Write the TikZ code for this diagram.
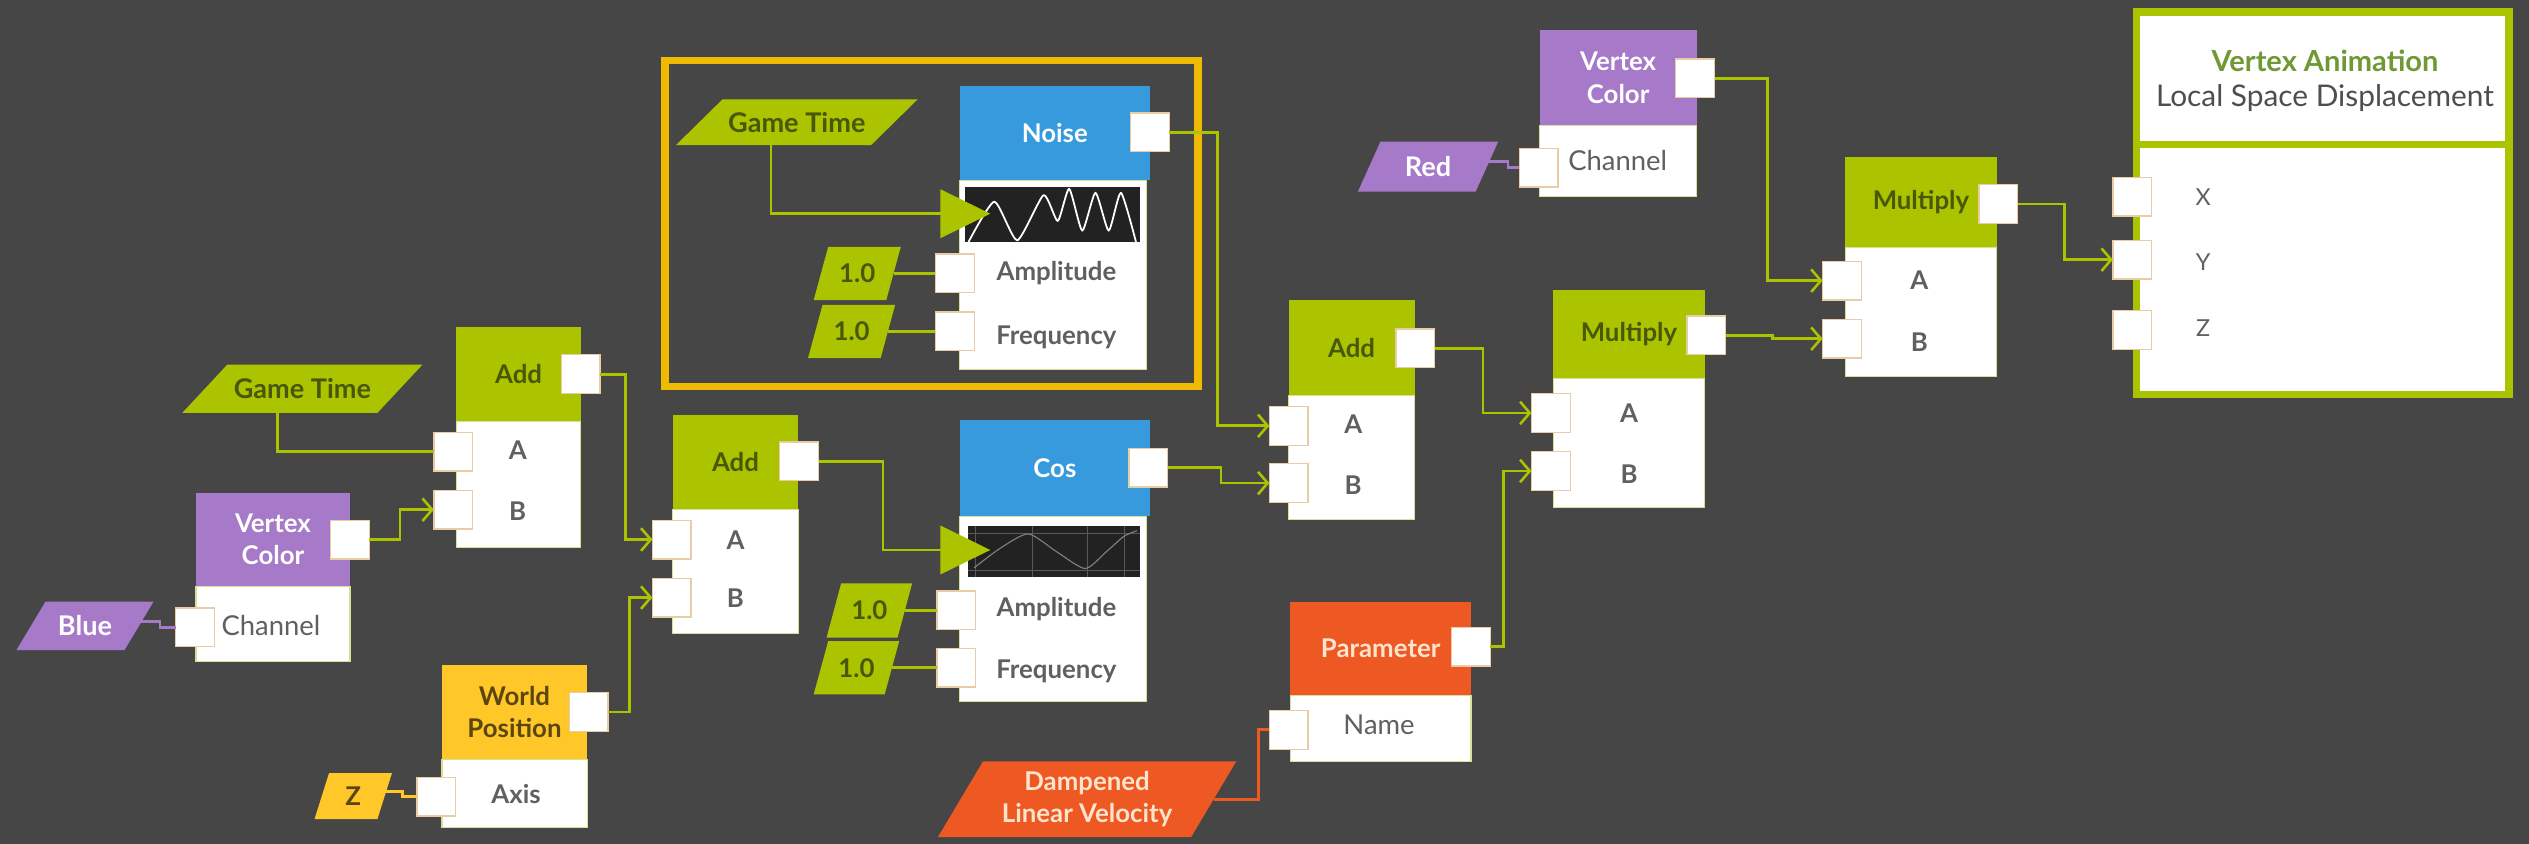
\documentclass[tikz,border=0pt]{standalone}
\usepackage{fontspec}
\setmainfont{Lato}
\usetikzlibrary{arrows.meta,calc}
\definecolor{bg}{RGB}{70,70,70}
\definecolor{cgreen}{RGB}{172,196,0}
\definecolor{cgreentxt}{RGB}{72,88,8}
\definecolor{cblue}{RGB}{54,154,220}
\definecolor{cpurple}{RGB}{166,122,200}
\definecolor{corange}{RGB}{238,88,34}
\definecolor{corangetxt}{RGB}{255,228,205}
\definecolor{cyellow}{RGB}{255,200,40}
\definecolor{cyellowtxt}{RGB}{92,70,16}
\definecolor{cgold}{RGB}{240,186,0}
\definecolor{cport}{RGB}{232,204,166}
\definecolor{clabel}{RGB}{96,96,96}
\definecolor{cedge}{RGB}{214,224,150}
\definecolor{cgraph}{RGB}{34,34,34}
\definecolor{cvagreen}{RGB}{112,152,52}
\definecolor{cdark}{RGB}{78,78,78}
\newcommand{\hdrfont}{\fontsize{16}{20}\selectfont\bfseries}
\newcommand{\parafont}{\fontsize{16.8}{21}\selectfont\bfseries}
\newcommand{\lblfont}{\fontsize{16}{20}\selectfont\bfseries}
\newcommand{\regfont}{\fontsize{17}{20}\selectfont}
\newcommand{\xyzfont}{\fontsize{14.5}{18}\selectfont}
\newcommand{\titfont}{\fontsize{18}{22}\selectfont\bfseries}
\newcommand{\subtfont}{\fontsize{18.5}{22}\selectfont}
\begin{document}
\begin{tikzpicture}[x=1pt,y=-1pt,
  every node/.style={inner sep=0pt, outer sep=0pt},
  hdr/.style={rectangle, anchor=north west, align=center, font=\hdrfont},
  bodybox/.style={rectangle, anchor=north west, fill=white, draw=cedge, line width=0.7pt},
  port/.style={rectangle, fill=white, draw=cport, line width=0.8pt, minimum width=24pt, minimum height=24pt},
  lbl/.style={text=clabel, font=\lblfont},
  rlbl/.style={text=clabel, font=\regfont},
  xyz/.style={text=clabel, font=\xyzfont},
  wire/.style={draw=cgreen, line width=1.7pt},
  pwire/.style={draw=cpurple, line width=1.6pt},
  ywire/.style={draw=cyellow, line width=1.6pt},
  owire/.style={draw=corange, line width=1.8pt},
  arrowin/.style={-{Straight Barb[length=6pt,width=14pt,line width=1.6pt]}},
  bigtri/.style={-{Triangle[length=31pt,width=30pt]}},
  para/.style n args={4}{rectangle, minimum width=#1, minimum height=#2, align=center, font=\hdrfont,
    path picture={\fill[#3] (path picture bounding box.south west) -- ([xshift=-#4]path picture bounding box.south east) -- (path picture bounding box.north east) -- ([xshift=#4]path picture bounding box.north west) -- cycle;}},
]
\useasboundingbox (0,0) rectangle (1568,523);
\fill[bg] (0,0) rectangle (1568,523);

% highlight frame
\node[rectangle, draw=cgold, line width=4.5pt, anchor=north west, minimum width=330.4, minimum height=202.1] (hl) at (412.3,37.7) {};

% ---------- Add 1 ----------
\node[hdr, fill=cgreen, text=cgreentxt, minimum width=77, minimum height=59] (a1h) at (283,202.5) {Add};
\node[bodybox, minimum width=77, minimum height=78] (a1b) at (283,261.5) {};
\node[lbl] (a1la) at (321,279) {A};
\node[lbl] (a1lb) at (321,317) {B};

% Game Time 1
\node[para={149}{30}{cgreen}{28}, text=cgreentxt, font=\parafont] (gt1) at (187.5,241) {Game Time};

% ---------- Vertex Color 1 ----------
\node[hdr, fill=cpurple, text=white, minimum width=95.5, minimum height=58] (vc1h) at (121.5,305.5) {Vertex\\Color};
\node[bodybox, minimum width=95.5, minimum height=46.5] (vc1b) at (121.5,363.5) {};
\node[rlbl] (vc1l) at (168,388) {Channel};
\node[para={85}{30}{cpurple}{18}, text=white, font=\parafont] (blue) at (52.7,388) {Blue};

% ---------- Add 2 ----------
\node[hdr, fill=cgreen, text=cgreentxt, minimum width=78, minimum height=59] (a2h) at (417,257) {Add};
\node[bodybox, minimum width=78, minimum height=77] (a2b) at (417,316) {};
\node[lbl] (a2la) at (456,335) {A};
\node[lbl] (a2lb) at (456,371) {B};

% ---------- World Position ----------
\node[hdr, fill=cyellow, text=cyellowtxt, minimum width=90, minimum height=59] (wph) at (274,412) {World\\Position};
\node[bodybox, minimum width=90, minimum height=42] (wpb) at (274,471) {};
\node[lbl] (wpl) at (320,492) {Axis};
\node[para={48}{28.5}{cyellow}{9}, text=cyellowtxt] (zp) at (219,493.6) {Z};

% ---------- Noise ----------
\node[para={150}{28.5}{cgreen}{29}, text=cgreentxt, font=\parafont] (gt2) at (494,75.8) {Game Time};
\node[hdr, fill=cblue, text=white, minimum width=118, minimum height=58.5] (nh) at (595,53.3) {Noise};
\node[bodybox, minimum width=116, minimum height=117.5] (nb) at (595,111.8) {};
\node[rectangle, anchor=north west, fill=cgraph, minimum width=109, minimum height=34] (ng) at (598,116) {};
\begin{scope}
\clip (598,116) rectangle (707,150);
\draw[white, line width=1.1pt, line join=round] plot[smooth, tension=0.35] coordinates {(600.5,150) (616.5,125) (630.7,149) (647,121) (655.8,137) (662.9,117) (671,143) (679.2,119.5) (687.4,143) (695,119.5) (704.3,150)};
\end{scope}
\node[lbl] (nla) at (655,169.5) {Amplitude};
\node[lbl] (nlf) at (655,209) {Frequency};
\node[para={54}{33}{cgreen}{9}, text=cgreentxt] (n1) at (531.5,169.5) {1.0};
\node[para={54}{33}{cgreen}{9}, text=cgreentxt] (n2) at (528,205.5) {1.0};
\coordinate (ntip) at (614,132.5);
\coordinate (gt2d) at ([xshift=-16pt]gt2.south);

% ---------- Cos ----------
\node[hdr, fill=cblue, text=white, minimum width=118, minimum height=59.5] (ch) at (595,260.5) {Cos};
\node[bodybox, minimum width=116, minimum height=115] (cb) at (595,320) {};
\node[rectangle, anchor=north west, fill=cgraph, minimum width=107, minimum height=32] (cg) at (600,326) {};
\draw[gray!70!black, line width=0.4pt] (605,326)--(605,358) (640,326)--(640,358) (674,326)--(674,358) (697,326)--(697,358) (600,330.5)--(707,330.5) (600,353.5)--(707,353.5);
\draw[gray, line width=0.7pt] plot[smooth, tension=0.4] coordinates {(604,352) (620,340) (637.5,331) (655,342) (672.8,352.5) (686,342) (697,332.4) (705,329)};
\node[lbl] (cla) at (655,377.5) {Amplitude};
\node[lbl] (clf) at (655,416.5) {Frequency};
\node[para={53}{33.5}{cgreen}{9}, text=cgreentxt] (c1) at (539,378.5) {1.0};
\node[para={53}{33}{cgreen}{9}, text=cgreentxt] (c2) at (531,414) {1.0};
\coordinate (ctip) at (614,341);

% ---------- Add 3 ----------
\node[hdr, fill=cgreen, text=cgreentxt, minimum width=78, minimum height=59] (a3h) at (799,186) {Add};
\node[bodybox, minimum width=78, minimum height=77] (a3b) at (799,245) {};
\node[lbl] (a3la) at (839,263) {A};
\node[lbl] (a3lb) at (839,301) {B};

% ---------- Parameter ----------
\node[hdr, fill=corange, text=corangetxt, minimum width=112, minimum height=58] (parh) at (800,373) {Parameter};
\node[bodybox, minimum width=112, minimum height=41] (parb) at (800,431) {};
\node[rlbl] (parl) at (855,449.5) {Name};
\node[para={185}{47}{corange}{28}, text=corangetxt] (dlv) at (674,495.5) {Dampened\\Linear Velocity};

% ---------- Multiply 1 ----------
\node[hdr, fill=cgreen, text=cgreentxt, minimum width=94, minimum height=54.5] (m1h) at (963,180) {Multiply};
\node[bodybox, minimum width=94, minimum height=80] (m1b) at (963,234.5) {};
\node[lbl] (m1la) at (1010,256) {A};
\node[lbl] (m1lb) at (1010,294) {B};

% ---------- Vertex Color 2 ----------
\node[hdr, fill=cpurple, text=white, minimum width=97.5, minimum height=59.5] (vc2h) at (954.5,18.5) {Vertex\\Color};
\node[bodybox, minimum width=97.5, minimum height=44] (vc2b) at (954.5,78) {};
\node[rlbl] (vc2l) at (1003,99.5) {Channel};
\node[para={87}{31}{cpurple}{14}, text=white, font=\parafont] (red) at (885.4,103.3) {Red};

% ---------- Multiply 2 ----------
\node[hdr, fill=cgreen, text=cgreentxt, minimum width=94, minimum height=56] (m2h) at (1144,97.5) {Multiply};
\node[bodybox, minimum width=94, minimum height=80] (m2b) at (1144,153.5) {};
\node[lbl] (m2la) at (1190,173.5) {A};
\node[lbl] (m2lb) at (1190,212) {B};

% ---------- Output ----------
\node[rectangle, anchor=north west, fill=white, draw=cgreen, line width=4.5pt, minimum width=231, minimum height=237] (outn) at (1324.5,7.5) {};
\draw[cgreen, line width=4.5pt] ([yshift=-82pt]outn.north west) -- ([yshift=-82pt]outn.north east);
\node[font=\titfont, text=cvagreen] (vat) at (1441.5,37.5) {Vertex Animation};
\node[font=\subtfont, text=cdark] (vas) at (1441.5,60.5) {Local Space Displacement};
\node[xyz] (olx) at (1366,122.5) {X};
\node[xyz] (oly) at (1366,162.5) {Y};
\node[xyz] (olz) at (1366,203.5) {Z};

% ---------- Ports ----------
\node[port] (a1o) at (360,232) {};
\node[port] (a1A) at (281,280) {};
\node[port] (a1B) at (281,316) {};
\node[port] (vc1o) at (217,334.5) {};
\node[port] (vc1c) at (121,389) {};
\node[port] (a2o) at (495.5,286) {};
\node[port] (a2A) at (416.5,334.5) {};
\node[port] (a2B) at (416.5,370.5) {};
\node[port] (wpo) at (365,441.5) {};
\node[port] (wpa) at (270.5,494) {};
\node[port] (no) at (713,82) {};
\node[port] (na) at (592,169.5) {};
\node[port] (nf) at (592,205.5) {};
\node[port] (co) at (712,290) {};
\node[port] (ca) at (593,378.5) {};
\node[port] (cf) at (593,414) {};
\node[port] (a3o) at (877.5,216) {};
\node[port] (a3A) at (799,264) {};
\node[port] (a3B) at (799,299.5) {};
\node[port] (po) at (912,401) {};
\node[port] (parn) at (799,452.5) {};
\node[port] (m1o) at (1058,208) {};
\node[port] (m1A) at (961.5,256) {};
\node[port] (m1B) at (961.5,292) {};
\node[port] (vc2o) at (1051,48.5) {};
\node[port] (vc2c) at (954,104) {};
\node[port] (m2o) at (1239,126.5) {};
\node[port] (m2A) at (1142,174) {};
\node[port] (m2B) at (1142,210) {};
\node[port] (oX) at (1322,122) {};
\node[port] (oY) at (1322,161) {};
\node[port] (oZ) at (1322,204.5) {};

% ---------- Wires ----------
\coordinate (gt1d) at ([xshift=-15.5pt]gt1.south);
\draw[wire] (gt1d) |- (a1A.west);
\draw[wire,arrowin] (vc1o.east) -- ++(19,0) |- (a1B.west);
\draw[wire,arrowin] (a1o.east) -- ++(16,0) |- (a2A.west);
\draw[wire,arrowin] (wpo.east) -- ++(13.5,0) |- (a2B.west);
\draw[wire,bigtri] (a2o.east) -- ++(40,0) |- (ctip);
\draw[wire,bigtri] (gt2d) |- (ntip);
\draw[wire] ([xshift=-4.5pt]n1.east) -- (na.west);
\draw[wire] ([xshift=-4.5pt]n2.east) -- (nf.west);
\draw[wire] ([xshift=-4.5pt]c1.east) -- (ca.west);
\draw[wire] ([xshift=-4.5pt]c2.east) -- (cf.west);
\draw[wire,arrowin] (no.east) -- ++(30,0) |- (a3A.west);
\draw[wire,arrowin] (co.east) -- ++(33,0) |- (a3B.west);
\draw[wire,arrowin] (a3o.east) -- ++(30,0) |- (m1A.west);
\draw[wire,arrowin] (po.east) -- ++(8,0) |- (m1B.west);
\draw[wire,arrowin] (m1o.east) -- ++(29,0) |- (m2B.west);
\draw[wire,arrowin] (vc2o.east) -- ++(33,0) |- (m2A.west);
\draw[wire,arrowin] (m2o.east) -- ++(29,0) |- (oY.west);
\draw[pwire] ([xshift=-9pt,yshift=2.5pt]blue.east) -- ++(13,0) |- (vc1c.west);
\draw[pwire] ([xshift=-7pt,yshift=3pt]red.east) -- ++(13,0) |- (vc2c.west);
\draw[ywire] ([xshift=-4.5pt,yshift=3pt]zp.east) -- ++(11,0) |- (wpa.west);
\draw[owire] ([xshift=-14pt]dlv.east) -- ++(27.5,0) |- (parn.west);
\end{tikzpicture}
\end{document}
